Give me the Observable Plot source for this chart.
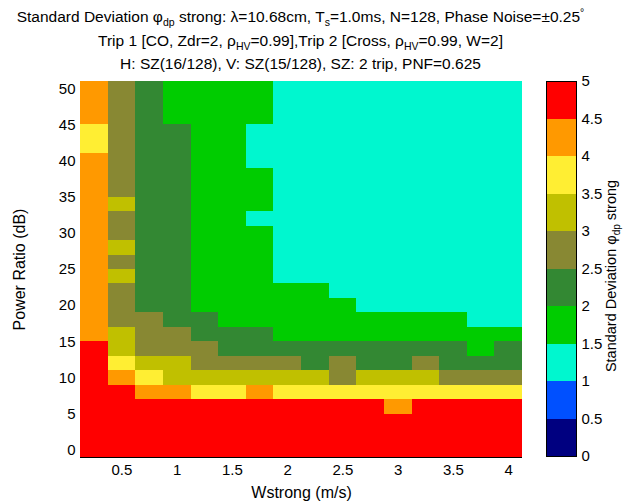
<!DOCTYPE html>
<html>
<head>
<meta charset="utf-8">
<script src="https://cdn.jsdelivr.net/npm/d3@7"></script>
<script src="https://cdn.jsdelivr.net/npm/@observablehq/plot@0.6"></script>
<style>
  html, body { margin: 0; padding: 0; background: #fff; }
  #fig { position: relative; width: 632px; height: 502px; overflow: hidden;
         font-family: "Liberation Sans", Arial, Helvetica, sans-serif; color: #000; }
  #fig svg { position: absolute; top: 0; }
  .tline { position: absolute; left: 0; width: 601px; text-align: center;
           font-size: 15.5px; line-height: 16px; white-space: nowrap; }
  .tline sub { font-size: 10.5px; vertical-align: -4px; line-height: 0; }
  .tline sup { font-size: 10.5px; vertical-align: 6px; line-height: 0; }
  #cblabel { position: absolute; left: 611px; top: 276px; font-size: 14.5px; line-height: 16px;
             white-space: nowrap; transform: translate(-50%, -50%) rotate(-90deg); }
  #cblabel sub { font-size: 10px; vertical-align: -4px; line-height: 0; }
</style>
</head>
<body>
<div id="fig">
  <div class="tline" style="top:9px">Standard Deviation φ<sub>dp</sub> strong: λ=10.68cm, T<sub>s</sub>=1.0ms, N=128, Phase Noise=±0.25<sup>°</sup></div>
  <div class="tline" style="top:33px">Trip 1 [CO, Zdr=2, ρ<sub>HV</sub>=0.99],Trip 2 [Cross, ρ<sub>HV</sub>=0.99, W=2]</div>
  <div class="tline" style="top:56px">H: SZ(16/128), V: SZ(15/128), SZ: 2 trip, PNF=0.625</div>
  <div id="cblabel">Standard Deviation φ<sub>dp</sub> strong</div>
</div>
<script>
// Strong-trip spectrum width (m/s), one value per column
const wstrong = [0.25, 0.5, 0.75, 1.0, 1.25, 1.5, 1.75, 2.0, 2.25, 2.5, 2.75, 3.0, 3.25, 3.5, 3.75, 4.0];
// Power ratio (dB), one value per row, top row first
const powerRatio = [50, 48, 46, 44, 42, 40, 38, 36, 34, 32, 30, 28, 26, 24, 22, 20, 18, 16, 14, 12, 10, 8, 6, 4, 2, 0];
// Standard deviation of phi_dp (deg) for the strong trip, rows follow powerRatio
const stdPhiDp = [
  [4.2, 2.8, 2.2, 1.8, 1.8, 1.8, 1.8, 1.2, 1.2, 1.2, 1.2, 1.2, 1.2, 1.2, 1.2, 1.2],
  [4.2, 2.8, 2.2, 1.8, 1.8, 1.8, 1.8, 1.2, 1.2, 1.2, 1.2, 1.2, 1.2, 1.2, 1.2, 1.2],
  [4.2, 2.8, 2.2, 1.8, 1.8, 1.8, 1.8, 1.2, 1.2, 1.2, 1.2, 1.2, 1.2, 1.2, 1.2, 1.2],
  [3.8, 2.8, 2.2, 2.2, 1.8, 1.8, 1.4, 1.2, 1.2, 1.2, 1.2, 1.2, 1.2, 1.2, 1.2, 1.2],
  [3.8, 2.8, 2.2, 2.2, 1.8, 1.8, 1.4, 1.2, 1.2, 1.2, 1.2, 1.2, 1.2, 1.2, 1.2, 1.2],
  [4.2, 2.8, 2.2, 2.2, 1.8, 1.8, 1.4, 1.2, 1.2, 1.2, 1.2, 1.2, 1.2, 1.2, 1.2, 1.2],
  [4.2, 2.8, 2.2, 2.2, 1.8, 1.8, 1.6, 1.2, 1.2, 1.2, 1.2, 1.2, 1.2, 1.2, 1.2, 1.2],
  [4.2, 2.9, 2.2, 2.2, 1.8, 1.8, 1.6, 1.2, 1.2, 1.2, 1.2, 1.2, 1.2, 1.2, 1.2, 1.2],
  [4.3, 3.1, 2.3, 2.2, 1.8, 1.8, 1.6, 1.2, 1.2, 1.2, 1.2, 1.2, 1.2, 1.2, 1.2, 1.1],
  [4.3, 2.9, 2.3, 2.2, 1.8, 1.8, 1.4, 1.3, 1.2, 1.2, 1.2, 1.2, 1.2, 1.2, 1.2, 1.1],
  [4.3, 2.9, 2.3, 2.2, 1.8, 1.8, 1.6, 1.3, 1.2, 1.2, 1.2, 1.2, 1.2, 1.2, 1.2, 1.1],
  [4.3, 3.1, 2.3, 2.2, 1.9, 1.8, 1.6, 1.3, 1.3, 1.2, 1.2, 1.2, 1.2, 1.2, 1.2, 1.2],
  [4.3, 2.9, 2.3, 2.2, 1.9, 1.8, 1.6, 1.3, 1.3, 1.2, 1.2, 1.2, 1.2, 1.2, 1.2, 1.2],
  [4.3, 3.1, 2.4, 2.3, 1.9, 1.8, 1.7, 1.4, 1.4, 1.3, 1.3, 1.3, 1.3, 1.3, 1.2, 1.2],
  [4.4, 2.9, 2.4, 2.3, 1.9, 1.9, 1.7, 1.6, 1.6, 1.4, 1.4, 1.4, 1.4, 1.4, 1.3, 1.3],
  [4.4, 2.9, 2.4, 2.3, 1.9, 1.9, 1.7, 1.7, 1.7, 1.6, 1.4, 1.4, 1.4, 1.4, 1.3, 1.3],
  [4.4, 2.9, 2.6, 2.3, 2.1, 1.9, 1.8, 1.8, 1.7, 1.7, 1.6, 1.6, 1.6, 1.6, 1.4, 1.4],
  [4.4, 3.2, 2.7, 2.6, 2.2, 2.1, 2.1, 1.9, 1.9, 1.8, 1.8, 1.8, 1.8, 1.8, 1.7, 1.7],
  [4.5, 3.3, 2.8, 2.7, 2.6, 2.3, 2.2, 2.2, 2.1, 2.1, 2.1, 2.1, 2.1, 2.1, 1.9, 2.1],
  [4.6, 3.6, 3.1, 3.0, 2.8, 2.7, 2.6, 2.6, 2.4, 2.6, 2.4, 2.4, 2.6, 2.4, 2.4, 2.4],
  [4.7, 4.1, 3.7, 3.2, 3.1, 3.1, 3.1, 3.0, 3.0, 2.9, 3.0, 3.0, 3.0, 2.9, 2.8, 2.8],
  [4.9, 4.6, 4.2, 4.1, 3.9, 3.9, 4.0, 3.8, 3.7, 3.7, 3.7, 3.8, 3.7, 3.7, 3.6, 3.6],
  [5.6, 5.4, 5.2, 5.1, 5.0, 4.9, 4.8, 4.8, 4.7, 4.6, 4.6, 4.4, 4.6, 4.6, 4.6, 4.6],
  [6.4, 6.2, 6.0, 5.9, 5.8, 5.7, 5.7, 5.6, 5.6, 5.5, 5.5, 5.5, 5.5, 5.4, 5.4, 5.4],
  [7.0, 6.9, 6.8, 6.7, 6.6, 6.5, 6.5, 6.4, 6.4, 6.3, 6.3, 6.3, 6.3, 6.2, 6.2, 6.2],
  [7.5, 7.4, 7.3, 7.2, 7.1, 7.0, 7.0, 6.9, 6.9, 6.8, 6.8, 6.8, 6.8, 6.7, 6.7, 6.7]
];
// Axis ticks
const xTicks = [0.5, 1, 1.5, 2, 2.5, 3, 3.5, 4];
const yTicks = [0, 5, 10, 15, 20, 25, 30, 35, 40, 45, 50];
const cbarTicks = [0, 0.5, 1, 1.5, 2, 2.5, 3, 3.5, 4, 4.5, 5];
// Discrete colour map: one colour per 0.5-degree band from 0 to 5
const bandEdges = [0, 0.5, 1, 1.5, 2, 2.5, 3, 3.5, 4, 4.5, 5];
const bandColors = ["#000080", "#0050ff", "#00f7cf", "#00cc00", "#338833", "#888833", "#c0c000", "#ffee33", "#ff9900", "#ff0000"];

const dw = 0.125, dp = 1;  // half cell width / height
const cells = [];
powerRatio.forEach((p, i) => wstrong.forEach((w, j) => cells.push({w, p, s: stdPhiDp[i][j]})));

const colorScale = {type: "threshold", domain: bandEdges.slice(1, -1), range: bandColors};
const font = {fontFamily: "'Liberation Sans', Arial, Helvetica, sans-serif", fontSize: "15px", background: "transparent", color: "#000", overflow: "visible"};

const main = Plot.plot({
  width: 632, height: 502,
  marginLeft: 80, marginRight: 110, marginTop: 81, marginBottom: 45,
  style: font,
  x: {domain: [0.125, 4.125], ticks: xTicks, tickFormat: d => String(d), tickSize: 0, tickPadding: 7,
      label: "Wstrong (m/s)", labelAnchor: "center", labelOffset: 40, labelArrow: "none"},
  y: {domain: [-1, 51], ticks: yTicks, tickFormat: d => String(d), tickSize: 0, tickPadding: 5,
      label: "Power Ratio (dB)", labelAnchor: "center", labelOffset: 67, labelArrow: "none"},
  color: colorScale,
  marks: [
    Plot.rect(cells, {x1: d => d.w - dw, x2: d => d.w + dw, y1: d => d.p - dp, y2: d => d.p + dp,
                      fill: "s", shapeRendering: "crispEdges"}),
    Plot.ruleY([-1], {stroke: "#000"})
  ]
});
main.style.left = "0px";
// Axis titles a little larger than the tick labels
main.querySelectorAll("[aria-label$='axis label'] text").forEach(t => t.style.fontSize = "16px");
document.getElementById("fig").appendChild(main);

// Colour bar
const bands = bandEdges.slice(0, -1).map((lo, i) => ({lo, hi: bandEdges[i + 1], mid: (lo + bandEdges[i + 1]) / 2}));
const cbar = Plot.plot({
  width: 112, height: 502,
  marginLeft: 26, marginRight: 56, marginTop: 81, marginBottom: 46,
  style: font,
  x: {domain: [0, 1], axis: null},
  y: {domain: [0, 5], ticks: cbarTicks, tickFormat: d => String(d), axis: "right", tickSize: 0, tickPadding: 5, label: null},
  color: colorScale,
  marks: [
    Plot.rect(bands, {x1: 0, x2: 1, y1: "lo", y2: "hi", fill: "mid", shapeRendering: "crispEdges"}),
    Plot.frame({stroke: "#000"})
  ]
});
cbar.style.left = "520px";
document.getElementById("fig").appendChild(cbar);
</script>
</body>
</html>
